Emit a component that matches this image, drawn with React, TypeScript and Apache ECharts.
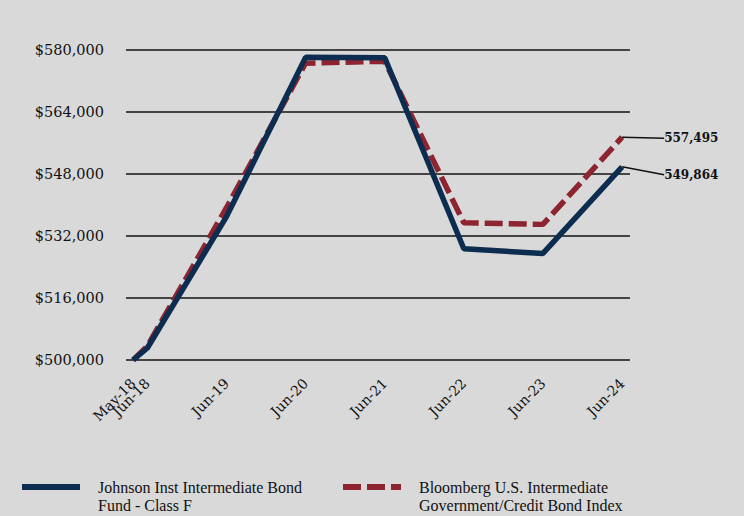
import React, { useEffect, useRef } from "react";
import * as echarts from "echarts";

const xLabels = ["May-18", "Jun-18", "Jun-19", "Jun-20", "Jun-21", "Jun-22", "Jun-23", "Jun-24"];
const xPos = [-0.18, 0, 1, 2, 3, 4, 5, 6];
const fundValues = [500000, 503100, 537000, 578100, 578000, 528700, 527500, 549864];
const indexValues = [500000, 503600, 539300, 576600, 577100, 535400, 535000, 557495];
const yTicks = [500000, 516000, 532000, 548000, 564000, 580000];
const fundName = "Johnson Inst Intermediate Bond\nFund - Class F";
const indexName = "Bloomberg U.S. Intermediate\nGovernment/Credit Bond Index";

const NAVY = "#0c2d4f";
const RED = "#8e2430";

function buildData(vals: number[]) {
  return vals.map((v, i) => {
    const pt: any = { value: [xPos[i], v] };
    if (i === vals.length - 1) {
      pt.symbol = "circle";
      pt.symbolSize = 0.1;
      pt.label = {
        show: true,
        position: "right",
        distance: 0,
        formatter: (p: any) => echarts.format.addCommas(p.value[1]),
        fontFamily: "DejaVu Serif",
        fontWeight: "bold",
        fontSize: 12,
        color: "#111",
      };
    }
    return pt;
  });
}

export default function App() {
  const ref = useRef<HTMLDivElement>(null);
  useEffect(() => {
    if (!ref.current) return;
    document.body.style.margin = "0";
    const chart = echarts.init(ref.current, undefined, { renderer: "svg" });
    const legendText = {
      fontFamily: "Liberation Serif",
      fontSize: 16,
      color: "#111",
      lineHeight: 18,
      padding: [0, 0, 0, 13],
    };
    const legendCommon = {
      top: 460,
      padding: 0,
      itemWidth: 58,
      itemHeight: 14,
      itemStyle: { opacity: 0 },
      lineStyle: { width: 6 },
      textStyle: legendText,
      formatter: (name: string) => "\n" + name,
    };
    const gridBox = { left: 126, right: 114, top: 50, bottom: 156 };
    const xLabelStyle = {
      rotate: 45,
      margin: 21,
      hideOverlap: false,
      showMinLabel: true,
      showMaxLabel: true,
      fontFamily: "DejaVu Serif",
      fontSize: 14,
      color: "#111",
      formatter: (v: number) => {
        const i = xPos.findIndex((p) => Math.abs(p - v) < 1e-6);
        return i >= 0 ? xLabels[i] : "";
      },
    };
    const xBase = {
      type: "value",
      min: -0.27,
      max: 6.1,
      splitLine: { show: false },
      axisLine: { show: false },
      axisTick: { show: false },
    };
    chart.setOption({
      animation: false,
      backgroundColor: "#d9d9d9",
      grid: [gridBox, gridBox],
      xAxis: [
        {
          ...xBase,
          gridIndex: 0,
          axisLabel: { ...xLabelStyle, customValues: xPos.filter((_, i) => i !== 1) },
        },
        {
          ...xBase,
          gridIndex: 1,
          axisLabel: { ...xLabelStyle, customValues: [xPos[1]] },
        },
      ],
      yAxis: [
        {
          type: "value",
          gridIndex: 0,
          min: 500000,
          max: 580000,
          interval: 16000,
          axisLine: { show: false },
          axisTick: { show: false },
          splitLine: { lineStyle: { color: "#444", width: 2 } },
          axisLabel: {
            margin: 22,
            fontFamily: "DejaVu Serif",
            fontSize: 14.5,
            color: "#111",
            formatter: (v: number) => "$" + echarts.format.addCommas(v),
          },
        },
        {
          type: "value",
          gridIndex: 1,
          min: 500000,
          max: 580000,
          interval: 16000,
          show: false,
        },
      ],
      legend: [
        { ...legendCommon, left: 19, data: [fundName] },
        { ...legendCommon, left: 340, data: [indexName] },
      ],
      series: [
        {
          name: fundName,
          type: "line",
          xAxisIndex: 0,
          yAxisIndex: 0,
          symbol: "none",
          showSymbol: true,
          data: buildData(fundValues),
          lineStyle: { color: NAVY, width: 5.5 },
          itemStyle: { color: NAVY },
          labelLine: { show: true, lineStyle: { color: "#111", width: 1.5 } },
          labelLayout: { dx: 42, dy: 8 },
          z: 3,
        },
        {
          name: indexName,
          type: "line",
          xAxisIndex: 0,
          yAxisIndex: 0,
          symbol: "none",
          showSymbol: true,
          data: buildData(indexValues),
          lineStyle: { color: RED, width: 5.5, type: [18, 6] },
          itemStyle: { color: RED },
          labelLine: { show: true, lineStyle: { color: "#111", width: 1.5 } },
          labelLayout: { dx: 42, dy: 1 },
          z: 2,
        },
      ],
    });
    return () => chart.dispose();
  }, []);
  return <div ref={ref} style={{ width: 744, height: 516 }} />;
}
